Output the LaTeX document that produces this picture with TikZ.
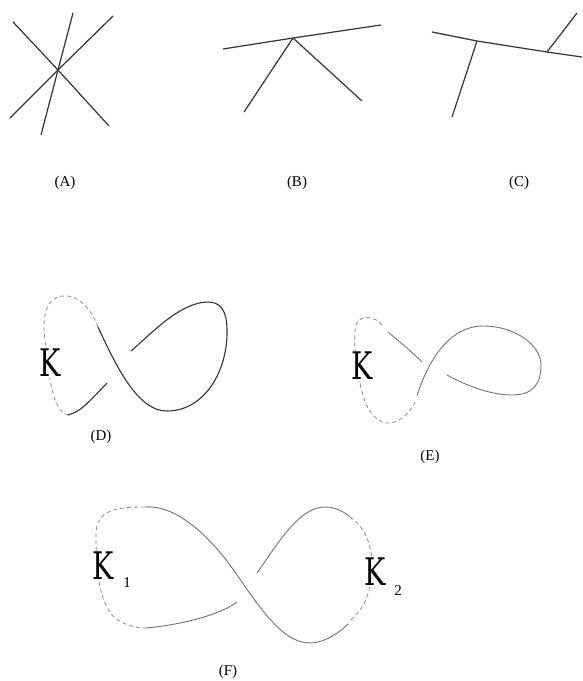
\documentclass[tikz,border=0pt]{standalone}
\usepackage{fontspec}
\setmainfont{Liberation Serif}
\newfontfamily\kfont{DejaVu Serif}
\begin{document}
\begin{tikzpicture}[
  x=1pt, y=1pt,
  stick/.style={draw=black!80, line width=1.2pt},
  knot/.style={draw=black!80, line width=1.1pt},
  thin knot/.style={draw=black!55, line width=0.9pt},
  hidden/.style={draw=black!45, line width=0.8pt, dash pattern=on 4pt off 3pt},
  lbl/.style={font=\fontsize{15}{15}\selectfont, inner sep=0pt},
  kname/.style={font=\kfont\fontsize{38}{38}\selectfont, xscale=0.75, fill=white, inner sep=1pt},
  ksub/.style={font=\fontsize{15}{15}\selectfont, inner sep=0pt},
]
\useasboundingbox (0,0) rectangle (582,-681);

% --- Panel A ---
\coordinate (acen) at (58,-70);
\draw[stick] (13,-22) -- (acen) -- (109,-126);
\draw[stick] (73,-13) -- (acen) -- (41,-135);
\draw[stick] (113,-16) -- (acen) -- (10,-118);
\node[lbl] (la) at (65,-183) {(A)};

% --- Panel B ---
\coordinate (bapex) at (293,-38);
\draw[stick] (223,-49) -- (bapex) -- (381,-25);
\draw[stick] (bapex) -- (244,-112);
\draw[stick] (bapex) -- (362,-101);
\node[lbl] (lb) at (297,-183) {(B)};

% --- Panel C ---
\coordinate (cjl) at (477,-41);
\coordinate (cjr) at (547,-52);
\draw[stick] (432,-32) -- (cjl) -- (cjr) -- (582,-57);
\draw[stick] (cjl) -- (452,-117);
\draw[stick] (cjr) -- (577,-13);
\node[lbl] (lc) at (519,-183) {(C)};

% --- Panel D ---
\draw[hidden] (98,-327) .. controls (90,-305) and (75,-294) .. (62,-296)
  .. controls (45,-298) and (42,-320) .. (45,-340)
  .. controls (48,-370) and (52,-412) .. (68,-415);
\draw[knot] (68,-415) .. controls (82,-412) and (95,-395) .. (107,-383);
\draw[knot] (98,-327) .. controls (120,-375) and (140,-411) .. (167,-411)
  .. controls (205,-411) and (228,-370) .. (227,-330)
  .. controls (227,-310) and (220,-302) .. (208,-302)
  .. controls (180,-302) and (150,-335) .. (131,-351);
\node[kname] (kd) at (50,-363) {K};
\node[lbl] (ld) at (101,-437) {(D)};

% --- Panel E ---
\draw[hidden] (382,-325) .. controls (375,-316) and (360,-314) .. (356,-325)
  .. controls (352,-340) and (358,-380) .. (363,-395)
  .. controls (368,-415) and (380,-424) .. (390,-423)
  .. controls (400,-422) and (410,-413) .. (415,-402);
\draw[thin knot] (388,-332) .. controls (400,-342) and (412,-352) .. (422,-362);
\draw[thin knot] (417,-396) .. controls (428,-360) and (450,-326) .. (483,-326)
  .. controls (515,-326) and (541,-345) .. (541,-365)
  .. controls (541,-385) and (532,-395) .. (512,-395)
  .. controls (490,-395) and (465,-385) .. (447,-375);
\node[kname] (ke) at (362,-366) {K};
\node[lbl] (le) at (430,-457) {(E)};

% --- Panel F ---
\draw[hidden] (145,-507) .. controls (115,-507) and (96,-510) .. (96,-535)
  .. controls (96,-575) and (100,-600) .. (112,-615)
  .. controls (120,-624) and (135,-628) .. (146,-628);
\draw[hidden] (350,-517) .. controls (365,-527) and (372,-545) .. (372,-565)
  .. controls (372,-595) and (362,-612) .. (348,-622);
\draw[thin knot] (145,-507) .. controls (170,-505) and (200,-525) .. (230,-565)
  .. controls (255,-600) and (280,-643) .. (310,-643)
  .. controls (325,-643) and (340,-632) .. (348,-624);
\draw[thin knot] (146,-628) .. controls (180,-625) and (220,-615) .. (237,-602);
\draw[thin knot] (257,-573) .. controls (280,-540) and (300,-507) .. (325,-507)
  .. controls (335,-507) and (345,-512) .. (350,-517);
\node[kname] (kf1) at (103,-566) {K};
\node[ksub] (sf1) at (127,-583) {1};
\node[kname] (kf2) at (375,-572) {K};
\node[ksub] (sf2) at (398,-591) {2};
\node[lbl] (lf) at (228,-672) {(F)};

\end{tikzpicture}
\end{document}
